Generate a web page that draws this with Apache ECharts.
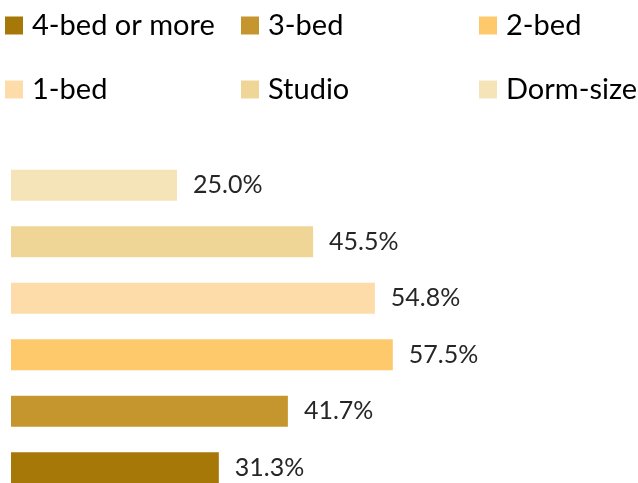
<!DOCTYPE html>
<html><head><meta charset="utf-8">
<script src="https://cdn.jsdelivr.net/npm/echarts@6/dist/echarts.min.js"></script>
<style>html,body{margin:0;padding:0;background:#fff}#c{width:638px;height:483px}</style>
</head><body><div id="c"></div>
<script>
const categories = ['4-bed or more','3-bed','2-bed','1-bed','Studio','Dorm-size'];
const values = [31.3, 41.7, 57.5, 54.8, 45.5, 25.0];
const colors = ['#A67808','#C6962E','#FEC96A','#FDDCA9','#EFD697','#F5E4B7'];

const FONT = 'Lato';
const chart = echarts.init(document.getElementById('c'));
const series = categories.map((name, i) => ({
  name: name,
  type: 'bar',
  stack: 'all',
  barWidth: 31,
  itemStyle: {color: colors[i]},
  data: categories.map((c, j) => j === i ? values[i] : '-'),
  label: {show: true, position: 'right', distance: 16, color: '#262626',
    fontFamily: FONT, fontSize: 25, formatter: p => p.value.toFixed(1) + '%'}
}));
const legPos = [[5,11],[241,11],[479,11],[5,75],[241,75],[479,75]];
const legends = categories.map((name, i) => ({
  data: [name], left: legPos[i][0], top: legPos[i][1], padding: 0,
  itemWidth: 18, itemHeight: 18, itemGap: 0, icon: 'rect',
  textStyle: {fontFamily: FONT, fontSize: 29, color: '#000', padding: [0,0,0,4]},
  selectedMode: false
}));
chart.setOption({
  animation: false,
  legend: legends,
  grid: {left: 11, width: 597.6, top: 157, height: 339, containLabel: false, outerBoundsMode: 'none'},
  xAxis: {type: 'value', min: 0, max: 90, show: false},
  yAxis: {type: 'category', data: categories, show: false},
  series: series
});
</script></body></html>
